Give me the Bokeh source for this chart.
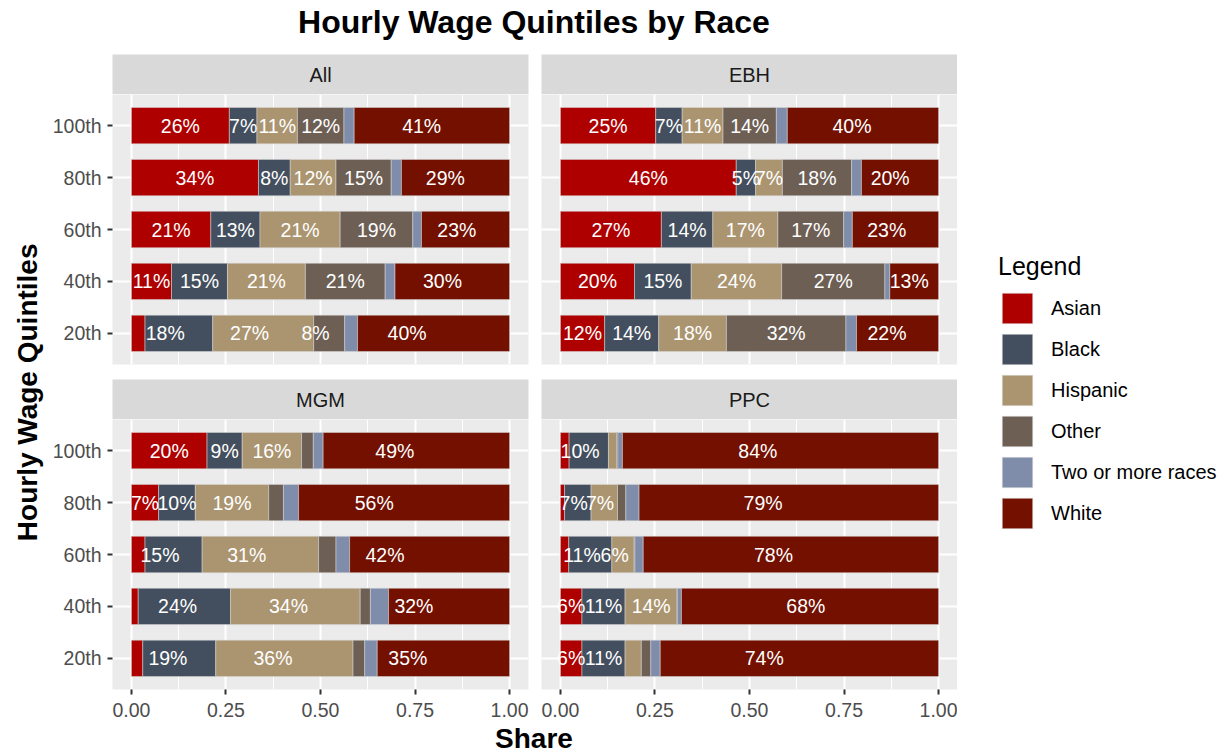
import math
from bokeh.plotting import figure
from bokeh.layouts import column, row
from bokeh.models import (ColumnDataSource, FactorRange, Range1d, FixedTicker, CategoricalTicker,
                          LinearAxis, CategoricalAxis, Grid, Label, Legend, LegendItem,
                          NumeralTickFormatter)
from bokeh.embed import file_html
from bokeh.resources import INLINE
from bokeh.core.properties import value

FONT = "Liberation Sans"

# ---------------- data ----------------
quintiles = ["20th", "40th", "60th", "80th", "100th"]   # bottom -> top
races = ["Asian", "Black", "Hispanic", "Other", "Two or more races", "White"]
colors = ["#AF0000", "#434F5E", "#AB9570", "#6E5F55", "#7F8DAA", "#731000"]
x_ticks = [0, 0.25, 0.5, 0.75, 1.0]
x_minor = [0.125, 0.375, 0.625, 0.875]

# shares by race, in quintile order 20th, 40th, 60th, 80th, 100th
all_shares = {
    "Asian":             [0.036, 0.106, 0.210, 0.336, 0.259],
    "Black":             [0.179, 0.148, 0.130, 0.084, 0.073],
    "Hispanic":          [0.267, 0.206, 0.212, 0.121, 0.107],
    "Other":             [0.082, 0.211, 0.192, 0.146, 0.123],
    "Two or more races": [0.034, 0.026, 0.023, 0.027, 0.027],
    "White":             [0.402, 0.303, 0.233, 0.286, 0.411],
}
ebh_shares = {
    "Asian":             [0.117, 0.196, 0.267, 0.465, 0.252],
    "Black":             [0.143, 0.150, 0.136, 0.051, 0.070],
    "Hispanic":          [0.179, 0.239, 0.172, 0.071, 0.108],
    "Other":             [0.316, 0.273, 0.174, 0.183, 0.141],
    "Two or more races": [0.028, 0.013, 0.023, 0.026, 0.029],
    "White":             [0.217, 0.129, 0.228, 0.204, 0.400],
}
mgm_shares = {
    "Asian":             [0.030, 0.018, 0.036, 0.072, 0.200],
    "Black":             [0.193, 0.244, 0.151, 0.097, 0.093],
    "Hispanic":          [0.363, 0.343, 0.308, 0.194, 0.157],
    "Other":             [0.031, 0.027, 0.046, 0.039, 0.031],
    "Two or more races": [0.033, 0.048, 0.036, 0.040, 0.026],
    "White":             [0.350, 0.320, 0.423, 0.558, 0.493],
}
ppc_shares = {
    "Asian":             [0.057, 0.057, 0.022, 0.011, 0.023],
    "Black":             [0.114, 0.114, 0.114, 0.070, 0.104],
    "Hispanic":          [0.043, 0.138, 0.059, 0.070, 0.022],
    "Other":             [0.025, 0.000, 0.002, 0.022, 0.003],
    "Two or more races": [0.025, 0.011, 0.022, 0.035, 0.012],
    "White":             [0.736, 0.680, 0.781, 0.792, 0.836],
}
label_min = 0.05


def strip_grids(p):
    p.center = [c for c in p.center if not isinstance(c, Grid)]


def blank_fig(fw, fh, bl=0, br=0, bt=0, bb=0, **kw):
    p = figure(frame_width=fw, frame_height=fh, min_border_left=bl, min_border_right=br,
               min_border_top=bt, min_border_bottom=bb, x_range=Range1d(0, 1), y_range=Range1d(0, 1),
               x_axis_location=None, y_axis_location=None, toolbar_location=None,
               output_backend="svg", outline_line_color=None, **kw)
    strip_grids(p)
    return p


def strip_fig(name, left):
    p = blank_fig(416, 40, bl=62 if left else 0, br=13 if left else 0,
                  background_fill_color="#D9D9D9")
    p.add_layout(Label(x=0.5, y=0.5, text=name, text_align="center", text_baseline="middle",
                       text_font=FONT, text_font_size="20px", text_color="#1A1A1A"))
    return p


def panel(shares, left, bottom):
    data = {"q": quintiles}
    for r in races:
        data[r] = shares[r]
    src = ColumnDataSource(data)
    p = figure(y_range=FactorRange(factors=quintiles, range_padding=0.1, range_padding_units="absolute"),
               x_range=Range1d(-0.05, 1.05), frame_width=416, frame_height=270,
               min_border_left=62 if left else 0, min_border_right=13 if left else 0,
               min_border_top=0, min_border_bottom=30 if bottom else 15,
               x_axis_location=None, y_axis_location=None, toolbar_location=None,
               output_backend="svg", background_fill_color="#EBEBEB",
               border_fill_color="white", outline_line_color=None)
    strip_grids(p)
    p.add_layout(Grid(dimension=0, ticker=FixedTicker(ticks=x_ticks, minor_ticks=x_minor),
                      grid_line_color="white", grid_line_width=2,
                      minor_grid_line_color="white", minor_grid_line_width=1), "center")
    p.add_layout(Grid(dimension=1, ticker=CategoricalTicker(), grid_line_color="white",
                      grid_line_width=2), "center")
    p.hbar_stack(races, y="q", height=0.7, fill_color=colors, line_color="#D8D8D8",
                 line_width=0.5, source=src)
    lx, ly, lt = [], [], []
    for i, q in enumerate(quintiles):
        cum = 0.0
        for r in races:
            v = shares[r][i]
            if v >= label_min:
                lx.append(cum + v / 2)
                ly.append(q)
                lt.append(f"{round(v * 100)}%")
                cum += v
    p.text(x="x", y="y", text="t", source=ColumnDataSource(dict(x=lx, y=ly, t=lt)),
           text_align="center", text_baseline="middle", text_color="white",
           text_font=value(FONT), text_font_size="19.5px")
    if left:
        ax = CategoricalAxis(axis_line_color=None, major_tick_line_color="#333333",
                             major_tick_line_width=2, major_tick_out=5, major_tick_in=0,
                             minor_tick_line_color=None, major_label_text_font=FONT,
                             major_label_text_font_size="19.5px", major_label_text_color="#4D4D4D",
                             major_label_standoff=6)
        p.add_layout(ax, "left")
    if bottom:
        ax = LinearAxis(ticker=FixedTicker(ticks=x_ticks), formatter=NumeralTickFormatter(format="0.00"),
                        axis_line_color=None, major_tick_line_color="#333333",
                        major_tick_line_width=2, major_tick_out=5, major_tick_in=0,
                        minor_tick_line_color=None, major_label_text_font=FONT,
                        major_label_text_font_size="19.5px", major_label_text_color="#4D4D4D",
                        major_label_standoff=8)
        p.add_layout(ax, "below")
    return p


# title (page y 0..54)
title_fig = blank_fig(845, 54, bl=111, br=274)
title_fig.add_layout(Label(x=0.5, y=0.61, text="Hourly Wage Quintiles by Race", text_align="center",
                           text_baseline="middle", text_font=FONT, text_font_size="32px",
                           text_font_style="bold", text_color="black"))

# y axis title
ylab_fig = blank_fig(49, 665)
ylab_fig.add_layout(Label(x=0.55, y=0.492, text="Hourly Wage Quintiles", angle=math.pi / 2,
                          text_align="center", text_baseline="middle", text_font=FONT,
                          text_font_size="28px", text_font_style="bold", text_color="black"))

# x axis title (page y 719..754)
xlab_fig = blank_fig(845, 35, bl=111, br=274)
xlab_fig.add_layout(Label(x=0.5, y=0.47, text="Share", text_align="center",
                          text_baseline="middle", text_font=FONT, text_font_size="28px",
                          text_font_style="bold", text_color="black"))

# legend (swatch proxies carry no marks)
leg_fig = blank_fig(274, 665)
items = []
nan = float("nan")
for r, c in zip(races, colors):
    rr = leg_fig.hbar(y=[nan], right=[nan], height=0.7, fill_color=c, line_color="#D8D8D8",
                      line_width=0.5)
    items.append(LegendItem(label=r, renderers=[rr]))
legend = Legend(items=items, location=(41, 187), title="Legend", glyph_width=38, glyph_height=38,
                spacing=3, padding=0, margin=0, label_standoff=15, label_text_font=FONT,
                label_text_font_size="20px", label_text_color="black", title_text_font=FONT,
                title_text_font_size="25px", title_text_font_style="normal",
                title_text_color="black", title_standoff=8, border_line_color=None,
                background_fill_alpha=0)
leg_fig.add_layout(legend, "center")

left_col = column(strip_fig("All", True), panel(all_shares, True, False),
                  strip_fig("MGM", True), panel(mgm_shares, True, True), spacing=0)
right_col = column(strip_fig("EBH", False), panel(ebh_shares, False, False),
                   strip_fig("PPC", False), panel(ppc_shares, False, True), spacing=0)

layout = column(title_fig, row(ylab_fig, left_col, right_col, leg_fig, spacing=0), xlab_fig, spacing=0)

open("out.html", "w").write(file_html(layout, INLINE))
